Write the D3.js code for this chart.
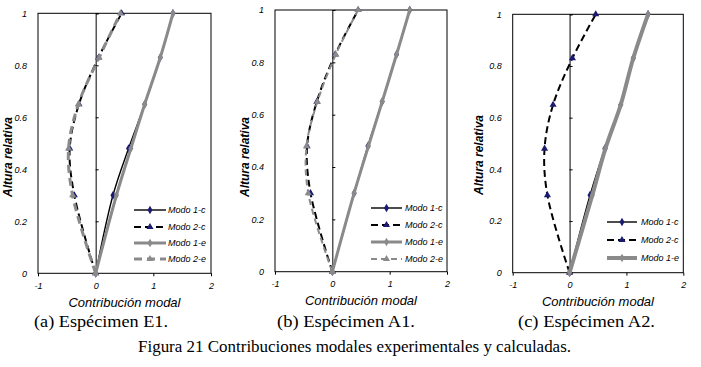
<!DOCTYPE html>
<html>
<head>
<meta charset="utf-8">
<script src="https://cdn.jsdelivr.net/npm/d3@7/dist/d3.min.js"></script>
<style>
  html, body { margin: 0; padding: 0; background: #fff; }
  svg { display: block; }
</style>
</head>
<body>
<svg id="chart" width="701" height="367"></svg>
<script>
// ---------------- DATA ----------------
const heights = [0, 0.30, 0.48, 0.65, 0.83, 1.0];
const xTicks = [-1, 0, 1, 2];
const xTickLabels = ["-1", "0", "1", "2"];
const yTicks = [0, 0.2, 0.4, 0.6, 0.8, 1];
const yTickLabels = ["0", "0.2", "0.4", "0.6", "0.8", "1"];
const seriesNames = ["Modo 1-c", "Modo 2-c", "Modo 1-e", "Modo 2-e"];
const panelCaptions = ["(a) Espécimen E1.", "(b) Espécimen A1.", "(c) Espécimen A2."];
const xTitle = "Contribución modal";
const yTitle = "Altura relativa";
const figureCaption = "Figura 21 Contribuciones modales experimentales y calculadas.";

// Specimen E1
const E1_modo1c = [0, 0.30, 0.57, 0.85, 1.12, 1.34];
const E1_modo2c = [0, -0.37, -0.45, -0.29, 0.05, 0.45];
const E1_modo1e = [0, 0.36, 0.61, 0.85, 1.12, 1.34];
const E1_modo2e = [0, -0.40, -0.47, -0.30, 0.06, 0.43];
// Specimen A1
const A1_modo1c = [0, 0.38, 0.62, 0.87, 1.12, 1.35];
const A1_modo2c = [0, -0.38, -0.44, -0.27, 0.05, 0.45];
const A1_modo1e = [0, 0.38, 0.63, 0.87, 1.12, 1.35];
const A1_modo2e = [0, -0.42, -0.45, -0.26, 0.06, 0.45];
// Specimen A2
const A2_modo1c = [0, 0.36, 0.62, 0.90, 1.12, 1.38];
const A2_modo2c = [0, -0.39, -0.44, -0.29, 0.05, 0.46];
const A2_modo1e = [0, 0.40, 0.63, 0.90, 1.12, 1.38];

// ---------------- LAYOUT / STYLE ----------------
const NAVY = "#1b1b72";
const GREY = "#8a8a8a";
const baseStyles = [
  { stroke: "#000", width: 1.4, dash: null, marker: "diamond", mfill: NAVY },
  { stroke: "#000", width: 2, dash: "7,4", marker: "triangle", mfill: NAVY },
  { stroke: GREY, width: 3, dash: null, marker: "diamond", mfill: GREY },
  { stroke: GREY, width: 3, dash: "8,5", marker: "triangle", mfill: GREY }
];

const panels = [
  { frame: { l: 38, r: 211, t: 13.3, b: 273.3 }, yTitleX: 8, yTitleY: 157,
    legend: { x0: 134, x1: 166, tx: 168, rows: [210, 227, 243, 259] },
    caption: { x: 34, w: 134 },
    series: [E1_modo1c, E1_modo2c, E1_modo1e, E1_modo2e], styleOverride: {} },
  { frame: { l: 275, r: 447, t: 10, b: 271.7 }, yTitleX: 245, yTitleY: 157,
    legend: { x0: 371, x1: 402, tx: 405, rows: [208, 225, 242, 259] },
    caption: { x: 277, w: 138 },
    series: [A1_modo1c, A1_modo2c, A1_modo1e, A1_modo2e], styleOverride: { 3: { width: 2, dash: "6,4" } } },
  { frame: { l: 512.7, r: 683.3, t: 14.3, b: 272.7 }, yTitleX: 479, yTitleY: 155,
    legend: { x0: 607, x1: 637, tx: 641, rows: [222, 240, 258] },
    caption: { x: 518, w: 137 },
    series: [A2_modo1c, A2_modo2c, A2_modo1e], styleOverride: { 2: { width: 4 } } }
];

const svg = d3.select("#chart");
const sansFont = "'Liberation Sans', Arial, sans-serif";
const serifFont = "'Liberation Serif', 'Times New Roman', serif";

const symDiamond = d3.symbol().type(d3.symbolDiamond).size(22);
const symTriangle = d3.symbol().type(d3.symbolTriangle).size(22);

function drawMarker(g, type, cx, cy, fill) {
  g.append("path")
    .attr("d", type === "diamond" ? symDiamond() : symTriangle())
    .attr("transform", `translate(${cx},${cy})`)
    .attr("fill", fill);
}

panels.forEach((p, pi) => {
  const f = p.frame;
  const x = d3.scaleLinear().domain([-1, 2]).range([f.l, f.r]);
  const y = d3.scaleLinear().domain([0, 1]).range([f.b, f.t]);
  const g = svg.append("g");

  // frame
  g.append("rect").attr("x", f.l).attr("y", f.t)
    .attr("width", f.r - f.l).attr("height", f.b - f.t)
    .attr("fill", "none").attr("stroke", "#000").attr("stroke-width", 1);

  // zero vertical axis with ticks to the right
  const zeroAx = g.append("g").attr("transform", `translate(${x(0)},0)`)
    .call(d3.axisRight(y).tickValues(yTicks).tickSize(3).tickFormat(""));
  zeroAx.select(".domain").attr("stroke", "#000").attr("stroke-width", 1);

  // y tick labels at frame left
  const yAx = g.append("g").attr("transform", `translate(${f.l},0)`)
    .call(d3.axisLeft(y).tickValues(yTicks).tickSize(0).tickPadding(11)
      .tickFormat((d, i) => yTickLabels[i]));
  yAx.select(".domain").remove();
  yAx.selectAll("text").attr("font-family", sansFont).attr("font-style", "italic")
    .attr("font-size", 9).attr("fill", "#000");

  // x axis at bottom
  const xAx = g.append("g").attr("transform", `translate(0,${f.b})`)
    .call(d3.axisBottom(x).tickValues(xTicks).tickSize(3).tickPadding(6)
      .tickFormat((d, i) => xTickLabels[i]));
  xAx.select(".domain").remove();
  xAx.selectAll("line").attr("stroke", "#000");
  xAx.selectAll("text").attr("font-family", sansFont).attr("font-style", "italic")
    .attr("font-size", 9).attr("fill", "#000");

  // titles
  g.append("text").attr("x", (f.l + f.r) / 2).attr("y", f.b + 29)
    .attr("text-anchor", "middle").attr("dominant-baseline", "central")
    .attr("font-family", sansFont).attr("font-style", "italic").attr("font-size", 13)
    .text(xTitle);
  g.append("text").attr("transform", `translate(${p.yTitleX},${p.yTitleY}) rotate(-90)`)
    .attr("text-anchor", "middle").attr("dominant-baseline", "central")
    .attr("font-family", sansFont).attr("font-style", "italic").attr("font-weight", "bold")
    .attr("font-size", 12).text(yTitle);

  // series
  const line = d3.line().x(d => x(d[0])).y(d => y(d[1])).curve(d3.curveCatmullRom.alpha(0.5));
  p.series.forEach((vals, si) => {
    const st = Object.assign({}, baseStyles[si], p.styleOverride[si] || {});
    const pts = vals.map((v, k) => [v, heights[k]]);
    const path = g.append("path").datum(pts).attr("d", line)
      .attr("fill", "none").attr("stroke", st.stroke).attr("stroke-width", st.width);
    if (st.dash) path.attr("stroke-dasharray", st.dash);
    pts.forEach(d => drawMarker(g, st.marker, x(d[0]), y(d[1]), st.mfill));

    // legend entry
    const ly = p.legend.rows[si];
    const ll = g.append("line").attr("x1", p.legend.x0).attr("x2", p.legend.x1)
      .attr("y1", ly).attr("y2", ly).attr("stroke", st.stroke).attr("stroke-width", st.width);
    if (st.dash) ll.attr("stroke-dasharray", st.dash);
    drawMarker(g, st.marker, (p.legend.x0 + p.legend.x1) / 2, ly, st.mfill);
    g.append("text").attr("x", p.legend.tx).attr("y", ly).attr("dominant-baseline", "central")
      .attr("font-family", sansFont).attr("font-style", "italic").attr("font-size", 9)
      .text(seriesNames[si]);
  });

  // panel caption
  g.append("text").attr("x", p.caption.x).attr("y", 327)
    .attr("font-family", serifFont).attr("font-size", 17)
    .attr("textLength", p.caption.w).attr("lengthAdjust", "spacingAndGlyphs")
    .text(panelCaptions[pi]);
});

svg.append("text").attr("x", 138).attr("y", 352)
  .attr("font-family", serifFont).attr("font-size", 16.5)
  .attr("textLength", 433).attr("lengthAdjust", "spacingAndGlyphs")
  .text(figureCaption);
</script>
</body>
</html>
